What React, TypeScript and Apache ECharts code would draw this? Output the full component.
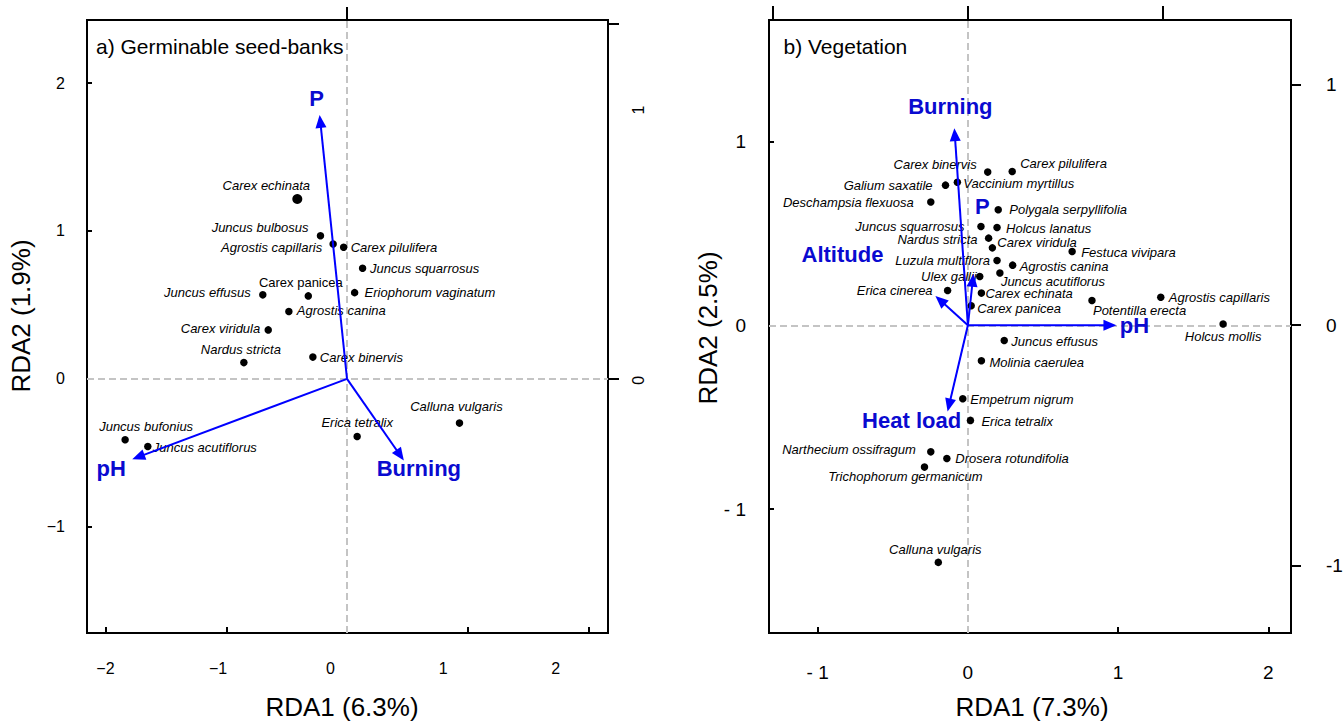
import React, { useEffect, useRef } from 'react';
import * as echarts from 'echarts';

const FONT = '"Liberation Sans", Arial, Helvetica, sans-serif';
const BLUE = '#0000ff';
const BLUE_TEXT = '#0a0ad0';
const ZERO_LINE = '#c4c4c4';

// ---------- Panel a) Germinable seed-banks ----------
const seedSpecies = [
  'Carex echinata', 'Juncus bulbosus', 'Agrostis capillaris', 'Carex pilulifera',
  'Juncus squarrosus', 'Carex panicea', 'Juncus effusus', 'Eriophorum vaginatum',
  'Agrostis canina', 'Carex viridula', 'Nardus stricta', 'Carex binervis',
  'Calluna vulgaris', 'Erica tetralix', 'Juncus bufonius', 'Juncus acutiflorus',
];
const seedRDA1 = [-0.412, -0.22, -0.115, -0.028, 0.129, -0.321, -0.698, 0.063, -0.482, -0.653, -0.855, -0.283, 0.932, 0.084, -1.839, -1.651];
const seedRDA2 = [1.216, 0.968, 0.912, 0.89, 0.748, 0.561, 0.568, 0.583, 0.455, 0.331, 0.11, 0.147, -0.299, -0.39, -0.412, -0.457];
const seedVectors = ['P', 'pH', 'Burning'];
const seedVecRDA1 = [-0.227, -1.78, 0.471];
const seedVecRDA2 = [1.784, -0.543, -0.552];

const seedXTicks = [-2, -1, 0, 1, 2];
const seedYTicks = [-1, 0, 1, 2];
const seedTopTicks = [0];
const seedRightTicks = [0, 1];

// ---------- Panel b) Vegetation ----------
const vegSpecies = [
  'Carex binervis', 'Carex pilulifera', 'Galium saxatile', 'Vaccinium myrtillus',
  'Deschampsia flexuosa', 'Polygala serpyllifolia', 'Juncus squarrosus', 'Holcus lanatus',
  'Nardus stricta', 'Carex viridula', 'Festuca vivipara', 'Luzula multiflora',
  'Agrostis canina', 'Ulex gallii', 'Juncus acutiflorus', 'Erica cinerea',
  'Carex echinata', 'Carex panicea', 'Potentilla erecta', 'Agrostis capillaris',
  'Holcus mollis', 'Juncus effusus', 'Molinia caerulea', 'Empetrum nigrum',
  'Erica tetralix', 'Narthecium ossifragum', 'Drosera rotundifolia', 'Trichophorum germanicum',
  'Calluna vulgaris',
];
const vegRDA1 = [0.132, 0.295, -0.149, -0.07, -0.247, 0.202, 0.087, 0.194, 0.138, 0.163, 0.694, 0.194, 0.298, 0.079, 0.213, -0.135, 0.09, 0.022, 0.826, 1.284, 1.699, 0.242, 0.09, -0.034, 0.017, -0.247, -0.14, -0.289, -0.197];
const vegRDA2 = [0.833, 0.836, 0.762, 0.778, 0.67, 0.628, 0.537, 0.532, 0.474, 0.421, 0.401, 0.352, 0.327, 0.265, 0.284, 0.189, 0.175, 0.106, 0.135, 0.153, 0.007, -0.083, -0.193, -0.399, -0.517, -0.688, -0.724, -0.771, -1.289];
const vegVectors = ['Burning', 'P', 'Altitude', 'pH', 'Heat load'];
const vegVecRDA1 = [-0.09, 0.037, -0.216, 0.989, -0.135];
const vegVecRDA2 = [1.072, 0.28, 0.16, 0, -0.468];

const vegXTicks = [-1, 0, 1, 2];
const vegYTicks = [-1, 0, 1];
const vegTopTicks = [-1, 0, 1];
const vegRightTicks = [-1, 0, 1];

// ---------- label placement (style only): [align, dx, dy] from the point ----------
type Place = [string, number, number];
const seedLabelPlace: Record<string, Place> = {
  'Carex echinata': ['center', -31, -13],
  'Juncus bulbosus': ['right', -12, -8],
  'Agrostis capillaris': ['right', -11, 4],
  'Carex pilulifera': ['left', 7, 0],
  'Juncus squarrosus': ['left', 7.5, 0],
  'Carex panicea': ['center', -7.5, -13],
  'Juncus effusus': ['right', -12, -2],
  'Eriophorum vaginatum': ['left', 10, 0],
  'Agrostis canina': ['left', 8, -1],
  'Carex viridula': ['right', -8, -1],
  'Nardus stricta': ['center', -3, -13],
  'Carex binervis': ['left', 7, 0],
  'Calluna vulgaris': ['center', -3, -17],
  'Erica tetralix': ['center', 0, -14],
  'Juncus bufonius': ['center', 21, -13],
  'Juncus acutiflorus': ['left', 5, 1],
};
const vegLabelPlace: Record<string, Place> = {
  'Carex binervis': ['right', -11, -8],
  'Carex pilulifera': ['left', 8, -8],
  'Galium saxatile': ['right', -13, 0],
  'Vaccinium myrtillus': ['left', 6, 1],
  'Deschampsia flexuosa': ['right', -17, 0],
  'Polygala serpyllifolia': ['left', 11, 0],
  'Juncus squarrosus': ['right', -16.5, 0],
  'Holcus lanatus': ['left', 9, 1],
  'Nardus stricta': ['right', -11, 1],
  'Carex viridula': ['left', 5, -5],
  'Festuca vivipara': ['left', 9, 0.5],
  'Luzula multiflora': ['right', -7, 0],
  'Agrostis canina': ['left', 7, 1],
  'Ulex gallii': ['right', -3, 0],
  'Juncus acutiflorus': ['left', 1, 8],
  'Erica cinerea': ['right', -15, 0],
  'Carex echinata': ['left', 4, 0.5],
  'Carex panicea': ['left', 6, 3],
  'Potentilla erecta': ['left', 1, 10],
  'Agrostis capillaris': ['left', 8, 0],
  'Holcus mollis': ['center', 0, 12],
  'Juncus effusus': ['left', 7, 1],
  'Molinia caerulea': ['left', 8, 1.5],
  'Empetrum nigrum': ['left', 7.5, 1],
  'Erica tetralix': ['left', 11, 1],
  'Narthecium ossifragum': ['right', -15, -2],
  'Drosera rotundifolia': ['left', 8.5, 0],
  'Trichophorum germanicum': ['center', -19, 9],
  'Calluna vulgaris': ['center', -3, -13],
};
const seedVecLabelPlace: Record<string, [number, number]> = {
  P: [-3, -16], pH: [-21, 9], Burning: [15, 8],
};
const vegVecLabelPlace: Record<string, [number, number]> = {
  Burning: [-4, -22], P: [9, -67], Altitude: [-93, -41], pH: [18, 0], 'Heat load': [-36, 9],
};

const minusFmt = (v: number) => (v < 0 ? '\u2212' + Math.abs(v) : String(v));
const spacedFmt = (v: number) => (v < 0 ? '- ' + Math.abs(v) : String(v));
const hyphenFmt = (v: number) => (v < 0 ? '-' + Math.abs(v) : String(v));

function speciesData(names: string[], xs: number[], ys: number[], place: Record<string, Place>, uprightNames: string[]) {
  return names.map((n, i) => {
    const p = place[n] || ['left', 6, 0];
    return {
      name: n,
      value: [xs[i], ys[i]],
      label: {
        show: true,
        position: 'inside',
        align: p[0],
        verticalAlign: 'middle',
        offset: [p[1], p[2]],
        formatter: n,
        color: '#000',
        opacity: 1,
        fontFamily: FONT,
        fontSize: 13,
        fontStyle: uprightNames.indexOf(n) >= 0 ? 'normal' : 'italic',
        textBorderWidth: 0,
        textShadowBlur: 0,
      },
    };
  });
}

function vecLabelData(names: string[], xs: number[], ys: number[], place: Record<string, [number, number]>) {
  return names.map((n, i) => ({
    name: n,
    value: [xs[i], ys[i]],
    label: {
      show: true,
      position: 'inside',
      align: 'center',
      verticalAlign: 'middle',
      offset: place[n],
      formatter: n,
      color: BLUE_TEXT,
      opacity: 1,
      fontFamily: FONT,
      fontSize: 22,
      fontWeight: 'bold',
      textBorderWidth: 0,
    },
  }));
}

function arrowRender(params: any, api: any) {
  const o = api.coord([0, 0]);
  const t = api.coord([api.value(0), api.value(1)]);
  const dx = t[0] - o[0];
  const dy = t[1] - o[1];
  const L = Math.hypot(dx, dy) || 1;
  const ux = dx / L;
  const uy = dy / L;
  const hl = 13;
  const hw = 5.5;
  const bx = t[0] - ux * hl;
  const by = t[1] - uy * hl;
  return {
    type: 'group',
    children: [
      { type: 'line', shape: { x1: o[0], y1: o[1], x2: bx + ux * 2, y2: by + uy * 2 }, style: { stroke: BLUE, lineWidth: 2 } },
      {
        type: 'polygon',
        shape: { points: [[t[0], t[1]], [bx - uy * hw, by + ux * hw], [bx + uy * hw, by - ux * hw]] },
        style: { fill: BLUE },
      },
    ],
  };
}

const tickStyle = { color: '#000', width: 2 };

function axisBase() {
  return {
    type: 'value',
    axisLine: { show: false, onZero: false },
    splitLine: { show: false },
  };
}

export default function App() {
  const ref = useRef<HTMLDivElement>(null);
  useEffect(() => {
    document.body.style.margin = '0';
    if (!ref.current) return;
    const chart = echarts.init(ref.current, null, { renderer: 'svg' });

    const zeroMark = {
      silent: true,
      symbol: 'none',
      z: 1,
      label: { show: false },
      lineStyle: { color: ZERO_LINE, type: [7, 4], width: 2, opacity: 1 },
      data: [{ xAxis: 0 }, { yAxis: 0 }],
    };

    const option: any = {
      animation: false,
      backgroundColor: '#fff',
      grid: [
        { left: 87, top: 20, width: 521, height: 613, show: true, borderColor: '#000', borderWidth: 2, backgroundColor: 'transparent', outerBoundsMode: 'none', containLabel: false },
        { left: 769, top: 20, width: 522, height: 613, show: true, borderColor: '#000', borderWidth: 2, backgroundColor: 'transparent', outerBoundsMode: 'none', containLabel: false },
      ],
      xAxis: [
        // 0: panel a bottom ticks
        { ...axisBase(), gridIndex: 0, position: 'bottom', min: -2.155, max: 2.163,
          axisTick: { show: true, inside: true, length: 6, lineStyle: tickStyle, customValues: seedXTicks },
          axisLabel: { show: false } },
        // 1: panel a bottom labels
        { ...axisBase(), gridIndex: 0, position: 'bottom', min: -2.164, max: 2.465,
          axisTick: { show: false },
          axisLabel: { show: true, customValues: seedXTicks, formatter: minusFmt, margin: 27, color: '#000', fontFamily: FONT, fontSize: 16 } },
        // 2: panel a top
        { ...axisBase(), gridIndex: 0, position: 'top', min: -2.155, max: 2.163,
          axisTick: { show: true, inside: false, length: 13, lineStyle: tickStyle, customValues: seedTopTicks },
          axisLabel: { show: false } },
        // 3: panel b bottom
        { ...axisBase(), gridIndex: 1, position: 'bottom', min: -1.324, max: 2.151,
          axisTick: { show: true, inside: true, length: 6, lineStyle: tickStyle, customValues: vegXTicks },
          axisLabel: { show: true, customValues: vegXTicks, formatter: spacedFmt, margin: 30, color: '#000', fontFamily: FONT, fontSize: 19 } },
        // 4: panel b top
        { ...axisBase(), gridIndex: 1, position: 'top', min: -1.021, max: 1.658,
          axisTick: { show: true, inside: false, length: 14, lineStyle: tickStyle, customValues: vegTopTicks },
          axisLabel: { show: false } },
      ],
      yAxis: [
        // 0: panel a left
        { ...axisBase(), gridIndex: 0, position: 'left', min: -1.718, max: 2.426,
          axisTick: { show: true, inside: true, length: 5, lineStyle: tickStyle, customValues: seedYTicks },
          axisLabel: { show: true, customValues: seedYTicks, formatter: minusFmt, margin: 22, color: '#000', fontFamily: FONT, fontSize: 16 } },
        // 1: panel a right ticks
        { ...axisBase(), gridIndex: 0, position: 'right', min: -0.716, max: 1.011,
          axisTick: { show: true, inside: false, length: 11, lineStyle: tickStyle, customValues: seedRightTicks },
          axisLabel: { show: false } },
        // 2: panel a right labels (rotated)
        { ...axisBase(), gridIndex: 0, position: 'right', min: -0.935, max: 1.333,
          axisTick: { show: false },
          axisLabel: { show: true, customValues: seedRightTicks, rotate: 90, margin: 22, color: '#000', fontFamily: FONT, fontSize: 16 } },
        // 3: panel b left
        { ...axisBase(), gridIndex: 1, position: 'left', min: -1.673, max: 1.66,
          axisTick: { show: true, inside: true, length: 5, lineStyle: tickStyle, customValues: vegYTicks },
          axisLabel: { show: true, customValues: vegYTicks, formatter: spacedFmt, margin: 23, color: '#000', fontFamily: FONT, fontSize: 19 } },
        // 4: panel b right
        { ...axisBase(), gridIndex: 1, position: 'right', min: -1.281, max: 1.269,
          axisTick: { show: true, inside: false, length: 10, lineStyle: tickStyle, customValues: vegRightTicks },
          axisLabel: { show: true, customValues: vegRightTicks, formatter: hyphenFmt, margin: 35, color: '#000', fontFamily: FONT, fontSize: 19 } },
      ],
      series: [
        {
          type: 'scatter', xAxisIndex: 0, yAxisIndex: 0, z: 3,
          symbol: 'circle',
          symbolSize: (v: any, p: any) => (p.name === 'Carex echinata' ? 10 : 7.5),
          itemStyle: { color: '#000', opacity: 1 },
          data: speciesData(seedSpecies, seedRDA1, seedRDA2, seedLabelPlace, ['Carex panicea']),
          markLine: zeroMark,
        },
        {
          type: 'custom', xAxisIndex: 0, yAxisIndex: 0, z: 4,
          renderItem: arrowRender,
          data: seedVectors.map((n, i) => ({ name: n, value: [seedVecRDA1[i], seedVecRDA2[i]] })),
        },
        {
          type: 'scatter', xAxisIndex: 0, yAxisIndex: 0, z: 5,
          symbol: 'circle', symbolSize: 1, itemStyle: { color: 'rgba(0,0,0,0)', opacity: 1 },
          data: vecLabelData(seedVectors, seedVecRDA1, seedVecRDA2, seedVecLabelPlace),
        },
        {
          type: 'scatter', xAxisIndex: 3, yAxisIndex: 3, z: 3,
          symbol: 'circle', symbolSize: 7.5,
          itemStyle: { color: '#000', opacity: 1 },
          data: speciesData(vegSpecies, vegRDA1, vegRDA2, vegLabelPlace, []),
          markLine: zeroMark,
        },
        {
          type: 'custom', xAxisIndex: 3, yAxisIndex: 3, z: 4,
          renderItem: arrowRender,
          data: vegVectors.map((n, i) => ({ name: n, value: [vegVecRDA1[i], vegVecRDA2[i]] })),
        },
        {
          type: 'scatter', xAxisIndex: 3, yAxisIndex: 3, z: 5,
          symbol: 'circle', symbolSize: 1, itemStyle: { color: 'rgba(0,0,0,0)', opacity: 1 },
          data: vecLabelData(vegVectors, vegVecRDA1, vegVecRDA2, vegVecLabelPlace),
        },
      ],
      graphic: [
        { type: 'text', x: 96, y: 46, style: { text: 'a) Germinable seed-banks', fill: '#000', font: `21px ${FONT}`, align: 'left', verticalAlign: 'middle', textAlign: 'left', textVerticalAlign: 'middle' } },
        { type: 'text', x: 783.5, y: 46, style: { text: 'b) Vegetation', fill: '#000', font: `21px ${FONT}`, align: 'left', verticalAlign: 'middle', textAlign: 'left', textVerticalAlign: 'middle' } },
        { type: 'text', x: 342, y: 707, style: { text: 'RDA1 (6.3%)', fill: '#000', font: `26px ${FONT}`, align: 'center', verticalAlign: 'middle', textAlign: 'center', textVerticalAlign: 'middle' } },
        { type: 'text', x: 1032, y: 707, style: { text: 'RDA1 (7.3%)', fill: '#000', font: `26px ${FONT}`, align: 'center', verticalAlign: 'middle', textAlign: 'center', textVerticalAlign: 'middle' } },
        { type: 'text', x: 21, y: 316, rotation: Math.PI / 2, style: { text: 'RDA2 (1.9%)', fill: '#000', font: `26px ${FONT}`, align: 'center', verticalAlign: 'middle', textAlign: 'center', textVerticalAlign: 'middle' } },
        { type: 'text', x: 707.5, y: 328, rotation: Math.PI / 2, style: { text: 'RDA2 (2.5%)', fill: '#000', font: `26px ${FONT}`, align: 'center', verticalAlign: 'middle', textAlign: 'center', textVerticalAlign: 'middle' } },
      ],
    };

    chart.setOption(option);
    return () => chart.dispose();
  }, []);
  return <div ref={ref} style={{ width: 1344, height: 721 }} />;
}
